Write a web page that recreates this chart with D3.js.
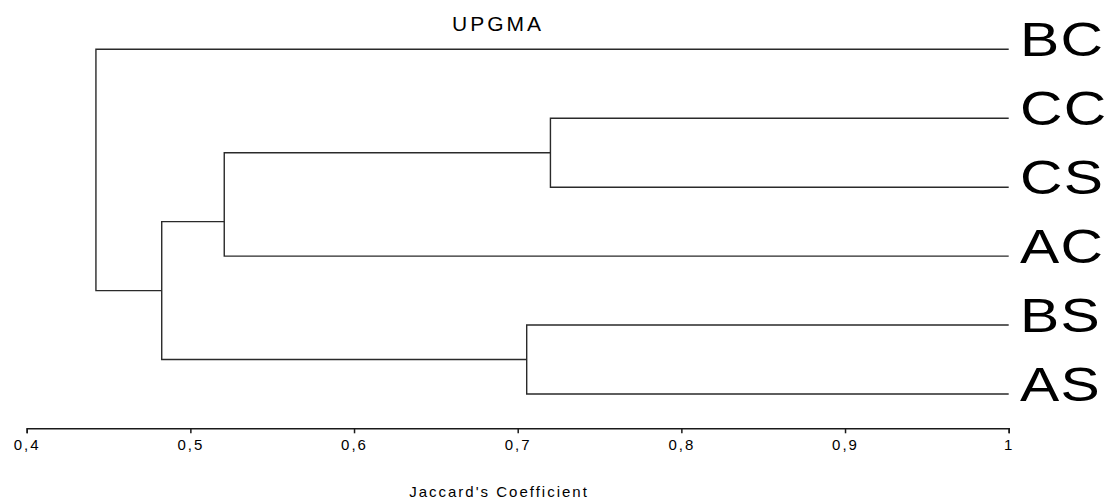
<!DOCTYPE html>
<html lang="en">
  <head>
    <meta charset="utf-8"/>
    <style>
      body {
        margin: 0;
        background: #fff;
        font-family: "Liberation Sans", Arial, sans-serif;
      }
      .axis path,
      .axis line {
        fill: none;
        stroke: #1a1a1a;
        stroke-width: 1.5;
      }
      .branch {
        fill: none;
        stroke: #2a2a2a;
        stroke-width: 1.4;
      }
    </style>
    <script src="https://cdn.jsdelivr.net/npm/d3@7"></script>
  </head>
  <body>
    <script>
      // leaves, top to bottom
      var leafLabels = ["BC", "CC", "CS", "AC", "BS", "AS"];

      // UPGMA merges: left child, right child, similarity at which they join
      var clusterNames = ["CC-CS", "BS-AS", "CC-CS-AC", "CC-CS-AC-BS-AS", "ALL"];
      var clusterLeft = ["CC", "BS", "CC-CS", "CC-CS-AC", "BC"];
      var clusterRight = ["CS", "AS", "AC", "BS-AS", "CC-CS-AC-BS-AS"];
      var clusterSimilarity = [0.72, 0.7055, 0.5207, 0.4825, 0.4423];

      var axisTicks = [0.4, 0.5, 0.6, 0.7, 0.8, 0.9, 1];

      var w = 1107;
      var h = 499;

      var svg = d3.select("body")
                  .append("svg")
                  .attr("width", w)
                  .attr("height", h);

      // scales
      var xScale = d3.scaleLinear()
                     .domain([0.4, 1])
                     .range([26.7, 1008.7]);
      var yScale = d3.scalePoint()
                     .domain(leafLabels)
                     .range([49.3, 394]);

      // node info: x position, y position, first and last leaf
      var nodes = {};
      leafLabels.forEach(function(l) {
        nodes[l] = {x: xScale(1), y: yScale(l), first: l, last: l};
      });
      clusterNames.forEach(function(name, i) {
        var a = nodes[clusterLeft[i]];
        var b = nodes[clusterRight[i]];
        nodes[name] = {
          x: xScale(clusterSimilarity[i]),
          // placed between the inner leaves of the two children
          y: (yScale(a.last) + yScale(b.first)) / 2,
          first: a.first,
          last: b.last
        };
      });

      // draw the dendrogram
      clusterNames.forEach(function(name, i) {
        var p = nodes[name];
        var a = nodes[clusterLeft[i]];
        var b = nodes[clusterRight[i]];
        var path = "M" + a.x + "," + a.y +
                   "H" + p.x +
                   "V" + b.y +
                   "H" + b.x;
        svg.append("path")
           .attr("class", "branch")
           .attr("d", path);
      });

      // leaf labels
      svg.selectAll(".leaf")
         .data(leafLabels)
         .enter()
         .append("text")
         .attr("class", "leaf")
         .attr("transform", function(d) {
           return "translate(1020," + (yScale(d) + 7) + ") scale(1.2,1)";
         })
         .attr("font-size", "49px")
         .attr("letter-spacing", "1px")
         .attr("fill", "#000")
         .text(function(d) { return d; });

      // x axis
      var xAxis = d3.axisBottom(xScale)
                    .tickValues(axisTicks)
                    .tickSize(5)
                    .tickSizeOuter(5)
                    .tickFormat(function(d) { return String(d).replace(".", ","); });

      var gx = svg.append("g")
                  .attr("class", "axis")
                  .attr("transform", "translate(0,428.3)")
                  .call(xAxis);
      gx.selectAll("text")
        .attr("dy", "0.71em")
        .attr("y", 11)
        .style("font-family", "'Liberation Sans', Arial, sans-serif")
        .style("font-size", "15px")
        .style("letter-spacing", "2px")
        .style("fill", "#000");

      // title
      svg.append("text")
         .attr("x", 498)
         .attr("y", 30.7)
         .attr("text-anchor", "middle")
         .attr("font-size", "21px")
         .attr("letter-spacing", "3px")
         .attr("fill", "#000")
         .text("UPGMA");

      // x-axis label
      svg.append("text")
         .attr("x", 499)
         .attr("y", 496.5)
         .attr("text-anchor", "middle")
         .attr("font-size", "15px")
         .attr("letter-spacing", "2px")
         .attr("fill", "#000")
         .text("Jaccard's Coefficient");
    </script>
  </body>
</html>
